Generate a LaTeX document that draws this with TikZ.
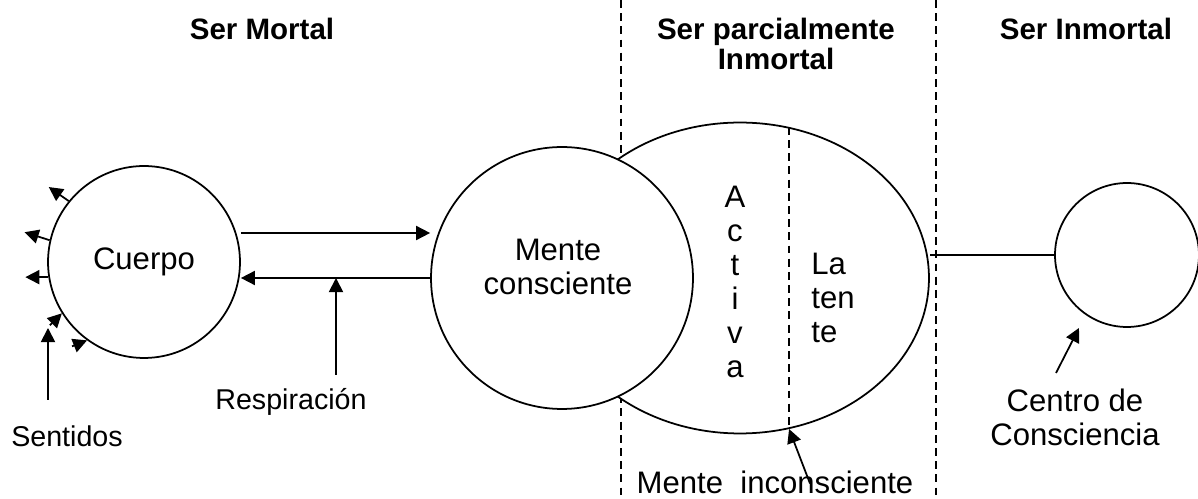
\documentclass[tikz,border=0pt]{standalone}
\usepackage{fontspec}
\setmainfont{Liberation Sans}
\usepackage{tikz}
\usetikzlibrary{arrows.meta}
\usetikzlibrary{shapes.geometric, calc}

\begin{document}
\begin{tikzpicture}[x=0.02cm, y=-0.02cm,
    trait/.style={line width=1pt},
    fleche/.style={line width=1pt, -{Triangle[length=8pt, width=8pt]}},
    pointille/.style={line width=1pt, dash pattern=on 4.5pt off 3pt},
    grand/.style={font=\fontsize{17.7}{19.3}\selectfont},
    petit/.style={font=\fontsize{16.3}{18}\selectfont},
    titre/.style={font=\fontsize{16.8}{17}\selectfont\bfseries}]
    \useasboundingbox (0,0) rectangle (1198,499);

    % Séparations pointillées
    \draw[pointille] (621,0) -- (621,499);
    \draw[pointille] (936,0) -- (936,499);

    % Titres
    \node[titre, anchor=base] (mortal) at (262,40) {Ser Mortal};
    \node[titre, align=center] (parcial) at (776,44) {Ser parcialmente\\Inmortal};
    \node[titre, anchor=base] (inmortal) at (1086,40) {Ser Inmortal};

    % Ellipse et cercle de la mente
    \node[ellipse, draw, trait, fill=white, minimum width=7.56cm, minimum height=6.22cm, inner sep=0pt] (el) at (740,278) {};
    \node[circle, draw, trait, fill=white, minimum size=5.24cm, inner sep=0pt] (mc) at (562,278) {};
    \node[grand, align=center] (mctxt) at (558,267) {Mente\\consciente};
    \draw[pointille] (el.72.7) -- (el.-72.7);

    % Activa / Latente
    \node[grand, align=center] (ac) at (735,282) {A\\c\\t\\i\\v\\a};
    \node[grand, align=left, anchor=west, inner sep=0pt] (la) at (811,298) {La\\ten\\te};

    % Cuerpo
    \node[circle, draw, trait, minimum size=3.84cm, inner sep=0pt, grand] (cu) at (144,262) {Cuerpo};
    \draw[fleche] (cu.141) -- ++(-20,-14);
    \draw[fleche] (cu.167) -- ++(-25,-8);
    \draw[fleche] (cu.189) -- ++(-23,0);
    \draw[fleche] ($(cu.212)+(-12,12)$) -- (cu.212);
    \draw[fleche] ($(cu.234)+(-15,6)$) -- (cu.234);

    % Flèches entre corps et mente
    \draw[fleche] ([yshift=0.58cm]cu.east) -- ([yshift=0.58cm]cu.east -| mc.west);
    \draw[fleche] (mc.west) -- (mc.west -| cu.east);

    % Respiración et Sentidos
    \node[petit, anchor=base] (resp) at (291,410) {Respiración};
    \coordinate (rp) at (336,375);
    \draw[fleche] (rp) -- (rp |- mc.west);
    \node[petit, anchor=base] (sen) at (67,447) {Sentidos};
    \coordinate (sp) at (48,400);
    \draw[fleche] (sp) -- ++(0,-72);

    % Mente inconsciente
    \node[grand, inner sep=1pt] (mi) at (775,482) {Mente\ \ inconsciente};
    \draw[fleche] ([xshift=0.7cm, yshift=-0.3cm]mi.north) -- (el.-72.7);

    % Centro de Consciencia
    \node[circle, draw, trait, minimum size=2.88cm, inner sep=0pt] (ci) at (1127,255) {};
    \draw[trait] (ci.west) -- (ci.west -| el.east);
    \node[grand, align=center] (cc) at (1075,417) {Centro de\\Consciencia};
    \draw[fleche] ($(cc)+(-19,-44)$) -- ($(cc)+(4,-89)$);
\end{tikzpicture}
\end{document}
